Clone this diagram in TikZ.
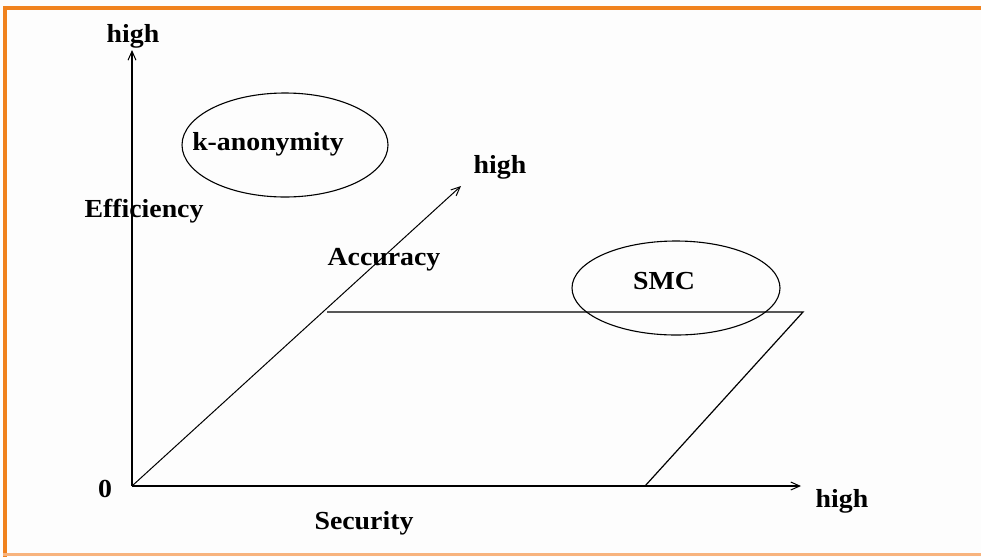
\documentclass[tikz,border=0pt]{standalone}
\usepackage{fontspec}
\setmainfont{Liberation Serif}
\usetikzlibrary{arrows.meta,shapes.geometric}
\definecolor{frameorange}{HTML}{F0821E}
\definecolor{framelight}{HTML}{F8B47E}
\definecolor{paper}{HTML}{FDFDFD}
\tikzset{
  lbl/.style={anchor=base,inner sep=0pt,font=\fontsize{26}{30}\selectfont\bfseries,xscale=1.07},
  axis/.style={line width=1.4pt,-{Straight Barb[length=9pt,width=8pt,line width=1pt]}},
  thinaxis/.style={line width=1pt,-{Straight Barb[length=9pt,width=8pt,line width=1pt]}},
  edge/.style={line width=1.2pt},
  region/.style={draw,ellipse,line width=1.1pt,inner sep=0pt}
}
\begin{document}
\begin{tikzpicture}[x=1pt,y=-1pt]
  \useasboundingbox (0,0) rectangle (981,557);
  % page and frame
  \fill[paper] (0,0) rectangle (981,557);
  \fill[frameorange] (3,6) rectangle (981,10);
  \fill[frameorange] (3,6) rectangle (7,557);
  \fill[framelight] (3,553) rectangle (981,556);

  % axes
  \coordinate (o) at (132,486);
  \coordinate (ytip) at (132,50);
  \coordinate (xtip) at (801,486);
  \coordinate (ztip) at (461,186);
  \draw[axis] (o) -- (ytip);
  \draw[axis] (o) -- (xtip);
  \draw[thinaxis] (o) -- (ztip);

  % plane of accuracy
  \coordinate (p1) at (327,312);
  \coordinate (p2) at (803,312);
  \coordinate (p3) at (645,486);
  \draw[edge] (p1) -- (p2) -- (p3);

  % regions
  \node[region,minimum width=206,minimum height=104] (kell) at (285,145) {};
  \node[region,minimum width=208,minimum height=94] (sell) at (676,288) {};

  % labels
  \node[lbl] (yhigh) at (133,42) {high};
  \node[lbl] (eff) at (144,217) {Efficiency};
  \node[lbl] (zero) at (105,497) {0};
  \node[lbl] (sec) at (364,529) {Security};
  \node[lbl] (xhigh) at (842,507) {high};
  \node[lbl] (acc) at (384,265) {Accuracy};
  \node[lbl] (zhigh) at (500,173) {high};
  \node[lbl] (klab) at (268,150) {k-anonymity};
  \node[lbl] (slab) at (664,289) {SMC};
\end{tikzpicture}
\end{document}
